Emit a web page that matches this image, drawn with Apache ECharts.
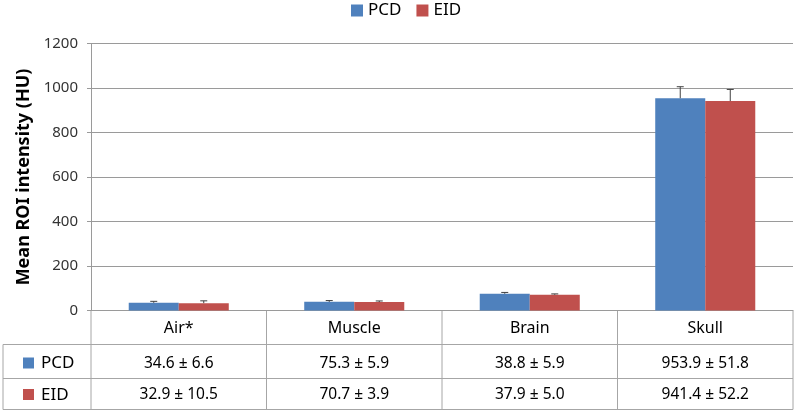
<!DOCTYPE html>
<html>
<head>
<meta charset="utf-8">
<script src="https://cdn.jsdelivr.net/npm/echarts@6/dist/echarts.min.js"></script>
<style>html,body{margin:0;padding:0;background:#fff}#c{width:797px;height:414px}</style>
</head>
<body>
<div id="c"></div>
<script>
// ---- data ----
const categories = ['Air*', 'Muscle', 'Brain', 'Skull'];
const seriesNames = ['PCD', 'EID'];
// bar heights as drawn in the chart
const pcdMean = [34.6, 38.8, 75.3, 953.9];
const pcdSD   = [6.6, 5.9, 5.9, 51.8];
const eidMean = [32.9, 37.9, 70.7, 941.4];
const eidSD   = [10.5, 5.0, 3.9, 52.2];
// data table text as printed
const pcdTable = ['34.6 \u00b1 6.6', '75.3 \u00b1 5.9', '38.8 \u00b1 5.9', '953.9 \u00b1 51.8'];
const eidTable = ['32.9 \u00b1 10.5', '70.7 \u00b1 3.9', '37.9 \u00b1 5.0', '941.4 \u00b1 52.2'];
const yTicks = [0, 200, 400, 600, 800, 1000, 1200];

const colors = ['#4F81BD', '#C0504D'];
const FONT = 'Noto Sans';
const GAP = 0.43;

function errSeries(idx, means, sds) {
  return {
    type: 'custom',
    name: seriesNames[idx] + ' err',
    silent: true,
    z: 5,
    data: means.map((m, i) => [i, m, sds[i]]),
    renderItem: function (params, api) {
      const i = api.value(0);
      const band = api.size([1, 0])[0];
      const bw = band * (1 - GAP) / 2;
      const off = (idx === 0 ? -0.5 : 0.5) * bw;
      const base = api.coord([i, api.value(1)]);
      const top = api.coord([i, api.value(1) + api.value(2)]);
      const x = base[0] + off;
      const s = { stroke: '#404040', lineWidth: 1 };
      return {
        type: 'group',
        children: [
          { type: 'line', shape: { x1: x, y1: base[1], x2: x, y2: top[1] }, style: s },
          { type: 'line', shape: { x1: x - 3.5, y1: top[1], x2: x + 3.5, y2: top[1] }, style: s }
        ]
      };
    }
  };
}

const chart = echarts.init(document.getElementById('c'));
const option = {
  animation: false,
  textStyle: { fontFamily: FONT },
  legend: {
    data: seriesNames,
    top: 2,
    left: 351,
    padding: 0,
    itemWidth: 12,
    itemHeight: 12,
    itemGap: 15,
    icon: 'rect',
    textStyle: { fontSize: 17, color: '#000', fontFamily: FONT }
  },
  grid: { left: 91, right: 4, top: 43.5, bottom: 103.5, containLabel: false },
  xAxis: {
    type: 'category',
    data: categories,
    axisLine: { lineStyle: { color: '#9a9a9a' } },
    axisTick: { show: false },
    axisLabel: { fontSize: 16, color: '#000', margin: 10, fontFamily: FONT }
  },
  yAxis: {
    type: 'value',
    min: 0, max: 1200, interval: 200,
    name: 'Mean ROI intensity (HU)',
    nameLocation: 'middle',
    nameGap: 56,
    nameTextStyle: { fontSize: 18, fontWeight: 'bold', color: '#000', fontFamily: FONT },
    axisLine: { show: true, lineStyle: { color: '#9a9a9a' } },
    axisTick: { show: true, length: 4, lineStyle: { color: '#9a9a9a' } },
    axisLabel: { fontSize: 15, color: '#333', margin: 13, fontFamily: FONT,
      formatter: v => yTicks.indexOf(v) >= 0 ? String(v) : '' },
    splitLine: { lineStyle: { color: '#9a9a9a' } }
  },
  series: [
    { type: 'bar', name: seriesNames[0], data: pcdMean, barGap: 0, barCategoryGap: (GAP * 100) + '%',
      itemStyle: { color: colors[0] } },
    { type: 'bar', name: seriesNames[1], data: eidMean, barGap: 0, barCategoryGap: (GAP * 100) + '%',
      itemStyle: { color: colors[1] } },
    errSeries(0, pcdMean, pcdSD),
    errSeries(1, eidMean, eidSD)
  ]
};
chart.setOption(option);

// ---- data table under the axis ----
function buildTable() {
  const y0 = chart.convertToPixel({ yAxisIndex: 0 }, 0);
  const centers = categories.map((c, i) => chart.convertToPixel({ xAxisIndex: 0 }, i));
  const band = centers[1] - centers[0];
  const left = centers[0] - band / 2;
  const right = centers[centers.length - 1] + band / 2;
  const tableLeft = 3;
  const r1 = y0 + 34, r2 = y0 + 68, r3 = y0 + 99;
  const ls = { stroke: '#a6a6a6', lineWidth: 1 };
  const els = [];
  const hline = (x1, x2, y) => els.push({ type: 'line', silent: true, shape: { x1, y1: y, x2, y2: y }, style: ls });
  const vline = (x, y1, y2) => els.push({ type: 'line', silent: true, shape: { x1: x, y1, x2: x, y2 }, style: ls });
  hline(tableLeft, right, r1);
  hline(tableLeft, right, r2);
  hline(tableLeft, right, r3);
  vline(tableLeft, r1, r3);
  for (let k = 0; k <= categories.length; k++) vline(left + k * band, y0, r3);
  const rows = [[pcdTable, (r1 + r2) / 2 + 2, 0], [eidTable, (r2 + r3) / 2 + 1, 1]];
  rows.forEach(([vals, yc, si]) => {
    els.push({ type: 'rect', silent: true, shape: { x: 23, y: yc - 6, width: 11, height: 11 }, style: { fill: colors[si] } });
    els.push({ type: 'text', silent: true, x: 41, y: yc, style: { text: seriesNames[si], fontSize: 17, fontFamily: FONT, fill: '#000', verticalAlign: 'middle', align: 'left' } });
    vals.forEach((t, i) => {
      els.push({ type: 'text', silent: true, x: centers[i], y: yc, style: { text: t, fontSize: 15.5, fontFamily: FONT, fill: '#000', verticalAlign: 'middle', align: 'center' } });
    });
  });
  chart.setOption({ graphic: els });
}
buildTable();
</script>
</body>
</html>
